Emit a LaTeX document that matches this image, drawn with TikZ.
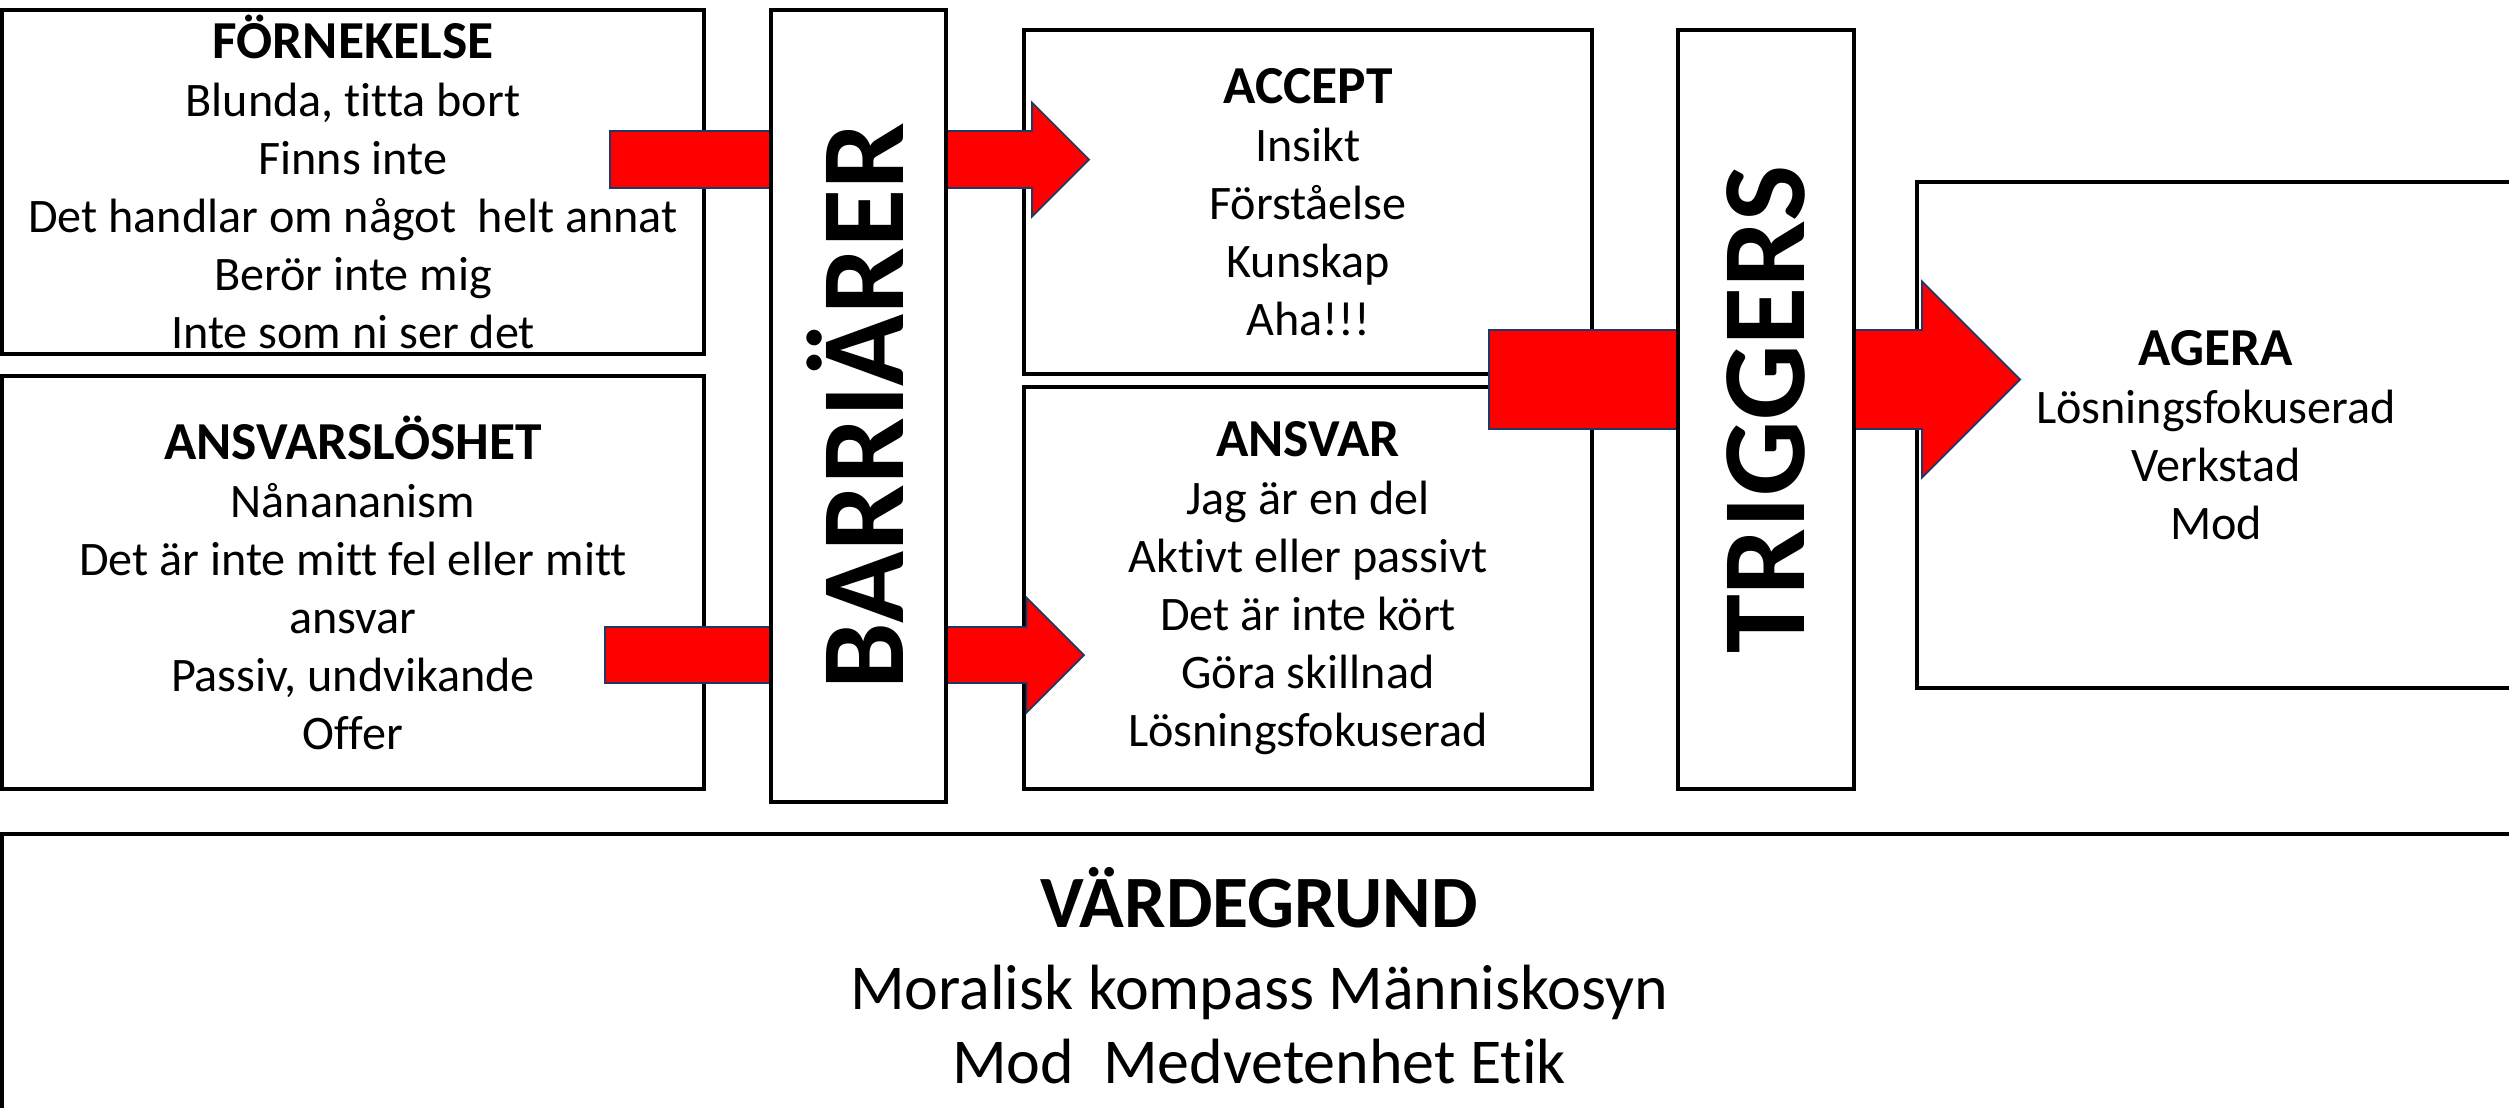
\documentclass[tikz,border=0pt]{standalone}
\usepackage{fontspec}
\setmainfont{Carlito}[Ligatures=CommonOff]
\usetikzlibrary{positioning, calc}
\definecolor{arrowred}{RGB}{255,0,0}
\definecolor{arrowedge}{RGB}{32,56,100}

% block arrow: from, to, half shaft width, half head width
\newcommand{\fatarrow}[4]{%
  \draw[fatArrow] ($(#1)+(0,#3)$) -- ($(#2)+(-#4,#3)$) -- ($(#2)+(-#4,#4)$) -- (#2)
    -- ($(#2)+(-#4,-#4)$) -- ($(#2)+(-#4,-#3)$) -- ($(#1)+(0,-#3)$) -- cycle;}
\newcommand{\boxhead}[1]{{\fontsize{15.2}{16.5}\selectfont\bfseries #1}}

\begin{document}
\begin{tikzpicture}[
        box/.style={rectangle, draw=black, line width=0.9pt, fill=white, inner sep=0pt,
                    align=center, font=\fontsize{13.7}{16.5}\selectfont},
        bar/.style={rectangle, draw=black, line width=0.9pt, fill=white, inner sep=0pt,
                    rotate=90, font=\fontsize{33.8}{38}\selectfont\bfseries},
        valuebox/.style={rectangle, draw=black, line width=0.9pt, fill=white, inner sep=0pt,
                    align=center, font=\fontsize{18.2}{21.3}\selectfont},
        fatArrow/.style={fill=arrowred, draw=arrowedge, line width=0.5pt},
    ]
    \clip (0,0) rectangle (25.09,-11.07);

    % ===== Left column =====
    \node[box, minimum width=7.02cm, minimum height=3.44cm] (fornek) at (3.53,-1.82)
        {\boxhead{FÖRNEKELSE}\\ Blunda, titta bort\\ Finns inte\\
         Det handlar om något~ helt annat\\ Berör inte mig\\ Inte som ni ser det};
    \node[box, minimum width=7.02cm, minimum height=4.13cm] (ansvarsl) at (3.53,-5.825)
        {\boxhead{ANSVARSLÖSHET}\\ Nånananism\\ Det är inte mitt fel eller mitt\\
         ansvar\\ Passiv, undvikande\\ Offer};

    % ===== Middle column =====
    \node[box, minimum width=5.68cm, minimum height=3.44cm] (accept) at (13.08,-2.02)
        {\boxhead{ACCEPT}\\ Insikt\\ Förståelse\\ Kunskap\\ Aha!!!};
    \node[box, minimum width=5.68cm, minimum height=4.02cm] (ansvar) at (13.08,-5.88)
        {\boxhead{ANSVAR}\\ Jag är en del\\ Aktivt eller passivt\\ Det är inte kört\\
         Göra skillnad\\ Lösningsfokuserad};

    % ===== Right box =====
    \node[box, minimum width=5.98cm, minimum height=5.06cm] (agera) at (22.16,-4.35)
        {\boxhead{AGERA}\\ Lösningsfokuserad\\ Verkstad\\ Mod};

    % ===== Arrows (behind the bars) =====
    \coordinate (a1s) at (6.10,-1.595);  \coordinate (a1e) at (10.89,-1.595);
    \coordinate (a2s) at (6.05,-6.55);   \coordinate (a2e) at (10.84,-6.55);
    \coordinate (a3s) at (14.89,-3.795); \coordinate (a3e) at (20.20,-3.795);
    \fatarrow{a1s}{a1e}{0.285}{0.57}
    \fatarrow{a2s}{a2e}{0.28}{0.575}
    \fatarrow{a3s}{a3e}{0.495}{0.98}

    % ===== Bars =====
    \node[bar, minimum width=7.92cm, minimum height=1.75cm] (barr) at (8.585,-4.06)
        {\raisebox{2pt}{BARRIÄRER}};
    \node[bar, minimum width=7.59cm, minimum height=1.76cm] (trig) at (17.66,-4.095)
        {\raisebox{0.5pt}{TRIGGERS}};

    % ===== Bottom: value base =====
    \node[valuebox, minimum width=25.14cm, minimum height=2.84cm] (vgrund) at (12.59,-9.76)
        {{\fontsize{21}{24}\selectfont\bfseries VÄRDEGRUND}\\[1.8pt]
         Moralisk kompass Människosyn\\ Mod~ Medvetenhet Etik};
\end{tikzpicture}
\end{document}
